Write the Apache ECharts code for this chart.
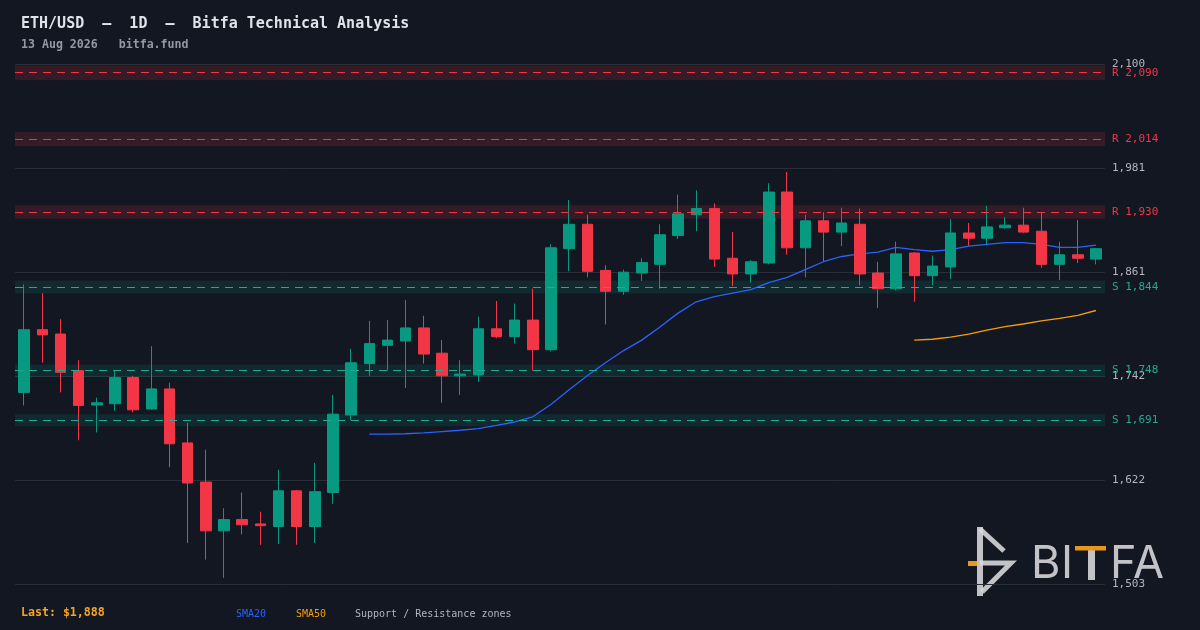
<!DOCTYPE html>
<html>
<head>
<meta charset="utf-8">
<script src="https://cdn.jsdelivr.net/npm/echarts@6/dist/echarts.min.js"></script>
<style>
html,body{margin:0;padding:0;background:#131722;}
#chart{width:1200px;height:630px;}
</style>
</head>
<body>
<div id="chart"></div>
<script>
// ---- data ----
var categories = ['2026-06-15','2026-06-16','2026-06-17','2026-06-18','2026-06-19','2026-06-20','2026-06-21','2026-06-22','2026-06-23','2026-06-24',
'2026-06-25','2026-06-26','2026-06-27','2026-06-28','2026-06-29','2026-06-30','2026-07-01','2026-07-02','2026-07-03','2026-07-04',
'2026-07-05','2026-07-06','2026-07-07','2026-07-08','2026-07-09','2026-07-10','2026-07-11','2026-07-12','2026-07-13','2026-07-14',
'2026-07-15','2026-07-16','2026-07-17','2026-07-18','2026-07-19','2026-07-20','2026-07-21','2026-07-22','2026-07-23','2026-07-24',
'2026-07-25','2026-07-26','2026-07-27','2026-07-28','2026-07-29','2026-07-30','2026-07-31','2026-08-01','2026-08-02','2026-08-03',
'2026-08-04','2026-08-05','2026-08-06','2026-08-07','2026-08-08','2026-08-09','2026-08-10','2026-08-11','2026-08-12','2026-08-13'];

var opens  = [1723,1795,1790,1748,1708.5,1710,1740,1704,1727,1665, 1620,1564,1577,1572,1569,1610,1569,1608,1697,1756,
              1777,1782,1797,1768,1742,1743,1796,1787,1806,1772, 1888,1916,1863,1839,1860,1870,1903,1927,1934,1877,
              1859,1871.5,1953,1889,1920,1907,1916,1860,1842,1883, 1857,1867,1906,1900,1912,1915,1908,1870,1881,1876];
var closes = [1795,1789,1746,1708,1711,1740,1703,1727,1664,1619, 1564,1577,1571,1570,1610,1569,1609,1698,1757,1779,
              1783,1797,1767,1742,1744,1796,1787,1806,1772,1889, 1916,1862,1839,1861,1872,1904,1928,1934,1876,1859,
              1873,1953,1889,1920,1907,1917.5,1859,1842,1882,1857, 1868,1906,1900,1913,1915,1907,1870,1881,1877,1888];
var lows   = [1708,1757,1723,1668,1677,1702,1700,1703,1637,1550, 1531,1510,1560,1548,1549,1548,1550,1595,1691,1742,
              1748,1728,1756,1711,1720,1735,1785,1779,1748,1770, 1862,1855,1801,1835,1851,1842,1899,1908,1867,1845,
              1849,1870,1881,1855,1873,1891,1846,1820,1840,1827, 1846,1853,1891,1893,1911,1906,1866,1852,1871.5,1870];
var highs  = [1847,1837,1807,1760,1717,1748,1742,1776,1734,1688, 1657,1590,1608,1586,1634,1611,1642,1720,1773,1805,
              1806,1829,1811,1783,1760,1810,1828,1825,1842,1893, 1944,1927,1869,1864,1877,1916,1950,1955,1940,1907,
              1875,1963,1976,1927,1930,1935,1934,1873,1896,1884, 1880,1922,1917.5,1937,1924,1935,1929,1896,1921,1889];

var sma20 = [null,null,null,null,null,null,null,null,null,null, null,null,null,null,null,null,null,null,null,1675,
             1675,1675.5,1676.5,1678,1679.5,1681.5,1685,1689,1695,1709, 1726,1742,1757,1771,1783,1798,1814,1827,1833,1837,
             1841,1849,1855,1864,1873,1879,1882,1884,1889.5,1887, 1885,1887,1891,1893,1895,1895,1893,1889.5,1889.5,1892];
var sma50 = [null,null,null,null,null,null,null,null,null,null, null,null,null,null,null,null,null,null,null,null,
             null,null,null,null,null,null,null,null,null,null, null,null,null,null,null,null,null,null,null,null,
             null,null,null,null,null,null,null,null,null,1783, 1784,1786.5,1790,1794.5,1798.5,1801.5,1805,1808,1811.5,1817];

var resistanceLevels = [2090, 2014, 1930];
var supportLevels    = [1844, 1748, 1691];
var zoneHalfPct = 0.004;

var yMin = 1503, yMax = 2100;
var lastPrice = 1888;

// ---- style ----
var BG = '#131722';
var UP = '#089981', DOWN = '#f23645';
var RED = '#f23645', TEAL = '#22ab94';
var MONO = '"DejaVu Sans Mono", monospace';

function fmt(v){ return Math.round(v).toLocaleString('en-US'); }

var candleData = opens.map(function(o,i){ return [o, closes[i], lows[i], highs[i]]; });

var zoneAreas = [], zoneLines = [];
resistanceLevels.forEach(function(l){
  zoneAreas.push([{yAxis: l*(1-zoneHalfPct), itemStyle:{color:'rgba(242,54,69,0.15)'}},{yAxis: l*(1+zoneHalfPct)}]);
  zoneLines.push({yAxis: l, lineStyle:{color:RED}, label:{color:RED, formatter:'R ' + fmt(l)}});
});
supportLevels.forEach(function(l){
  zoneAreas.push([{yAxis: l*(1-zoneHalfPct), itemStyle:{color:'rgba(8,153,129,0.15)'}},{yAxis: l*(1+zoneHalfPct)}]);
  zoneLines.push({yAxis: l, lineStyle:{color:TEAL}, label:{color:TEAL, formatter:'S ' + fmt(l)}});
});

var chart = echarts.init(document.getElementById('chart'), null, {renderer:'canvas'});

var logoGray = 'rgba(220,220,222,0.88)';
var option = {
  backgroundColor: BG,
  animation: false,
  grid: {left: 15, right: 95, top: 64, bottom: 46},
  xAxis: {
    type: 'category', data: categories, boundaryGap: true,
    axisLine:{show:false}, axisTick:{show:false}, axisLabel:{show:false}, splitLine:{show:false}
  },
  yAxis: {
    type: 'value', position: 'right', scale: true,
    min: yMin, max: yMax, interval: (yMax - yMin) / 5,
    axisLine:{show:false}, axisTick:{show:false},
    axisLabel:{color:'#b2b5be', fontFamily: MONO, fontSize: 11, margin: 7, formatter: fmt},
    splitLine:{show:true, lineStyle:{color:'#2a2e39', width:1}}
  },
  series: [
    {
      name: 'zones', type: 'line', data: [], z: 1, silent: true,
      markArea: {silent: true, data: zoneAreas},
      markLine: {
        silent: true, symbol: ['none','none'],
        lineStyle: {type: [8,6], width: 1.2},
        label: {position: 'end', distance: 7, fontFamily: MONO, fontSize: 11},
        data: zoneLines
      }
    },
    {
      name: 'SMA20', type: 'line', data: sma20, z: 2, showSymbol: false, symbol: 'none',
      lineStyle: {color: '#2962ff', width: 1.3}, connectNulls: false
    },
    {
      name: 'SMA50', type: 'line', data: sma50, z: 2, showSymbol: false, symbol: 'none',
      lineStyle: {color: '#f59e0b', width: 1.3}
    },
    {
      name: 'ETH/USD', type: 'candlestick', data: candleData, z: 3, barWidth: 11,
      itemStyle: {color: UP, color0: DOWN, borderColor: UP, borderColor0: DOWN, borderWidth: 1}
    }
  ],
  graphic: [
    {type:'text', left: null, x: 21, y: 24, style:{text:'ETH/USD  —  1D  —  Bitfa Technical Analysis', font:'bold 15px ' + MONO, fill:'#e1e3ea', verticalAlign:'middle'}},
    {type:'text', x: 21, y: 45, style:{text:'13 Aug 2026   bitfa.fund', font:'bold 11.6px ' + MONO, fill:'#9598a1', verticalAlign:'middle'}},
    {type:'text', x: 21, y: 613, style:{text:'Last: $' + fmt(lastPrice), font:'bold 11.6px ' + MONO, fill:'#f5a623', verticalAlign:'middle'}},
    {type:'text', x: 236, y: 614, style:{text:'SMA20', font:'10px ' + MONO, fill:'#2962ff', verticalAlign:'middle'}},
    {type:'text', x: 296, y: 614, style:{text:'SMA50', font:'10px ' + MONO, fill:'#f59e0b', verticalAlign:'middle'}},
    {type:'text', x: 355, y: 614, style:{text:'Support / Resistance zones', font:'10px ' + MONO, fill:'#b2b5be', verticalAlign:'middle'}},
    // logo icon
    {type:'line', shape:{x1:980,y1:527,x2:980,y2:596}, style:{stroke:logoGray, lineWidth:6}},
    {type:'polyline', shape:{points:[[980,529],[1004,551]]}, style:{stroke:logoGray, lineWidth:5}},
    {type:'polyline', shape:{points:[[980,563],[1011,563],[982,592]]}, style:{stroke:logoGray, lineWidth:5, fill:null}},
    {type:'rect', shape:{x:968,y:561,width:9,height:5}, style:{fill:'#e8961e'}},
    // logo text
    {type:'text', x: 1031, y: 564, style:{text:'B', font:'400 45px Inter', fill:logoGray, verticalAlign:'middle'}},
    {type:'text', x: 1061, y: 564, style:{text:'I', font:'400 45px Inter', fill:logoGray, verticalAlign:'middle'}},
    {type:'rect', shape:{x:1088,y:550,width:7,height:30}, style:{fill:logoGray}},
    {type:'rect', shape:{x:1075,y:546,width:31,height:4.5}, style:{fill:'#e8961e'}},
    {type:'text', x: 1110, y: 564, style:{text:'F', font:'400 45px Inter', fill:logoGray, verticalAlign:'middle'}},
    {type:'text', x: 1133, y: 564, style:{text:'A', font:'400 45px Inter', fill:logoGray, verticalAlign:'middle'}}
  ]
};
chart.setOption(option);
</script>
</body>
</html>
